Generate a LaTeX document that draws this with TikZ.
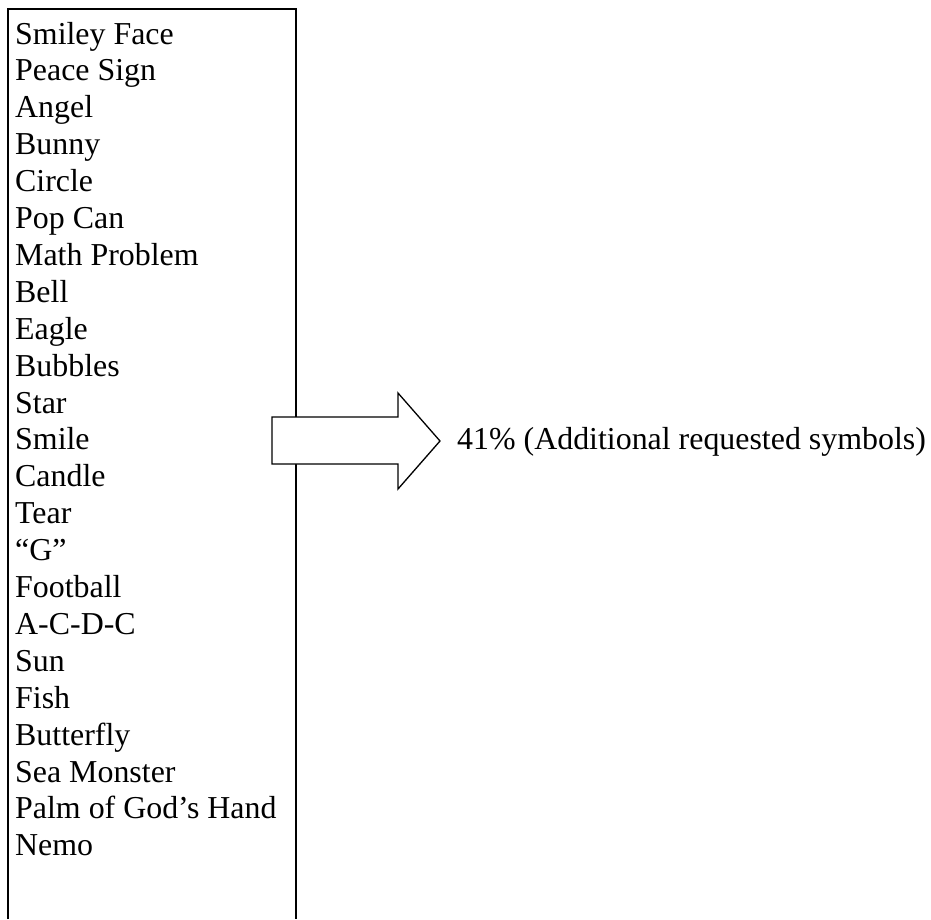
\documentclass[tikz,border=0pt]{standalone}
\usepackage{fontspec}
\setmainfont{Liberation Serif}
\begin{document}
\begin{tikzpicture}[x=1pt,y=1pt,
  item/.style={anchor=base west,inner sep=0pt,font=\fontsize{31.9}{36.9}\selectfont},
  boxline/.style={line width=2pt},
  blockarrow/.style={draw,fill=white,line width=1.3pt,line join=miter}]
\useasboundingbox (0,0) rectangle (931,-919);
% list box (open at bottom)
\draw[boxline] (8,-919) -- (8,-9) -- (296,-9) -- (296,-919);
% items
\foreach \t [count=\i] in {Smiley Face,Peace Sign,Angel,Bunny,Circle,Pop Can,Math Problem,Bell,Eagle,Bubbles,Star,Smile,Candle,Tear,“G”,Football,A-C-D-C,Sun,Fish,Butterfly,Sea Monster,Palm of God’s Hand,Nemo}
  \node[item] (item\i) at (15,{-44-(\i-1)*36.9}) {\t};
% block arrow
\draw[blockarrow] (272,-417) -- (398,-417) -- (398,-393) -- (440,-441)
  -- (398,-489) -- (398,-464) -- (272,-464) -- cycle;
\coordinate (tip) at (440,-441);
\node[item] (label) at (457,-449) {41\% (Additional requested symbols)};
\end{tikzpicture}
\end{document}
